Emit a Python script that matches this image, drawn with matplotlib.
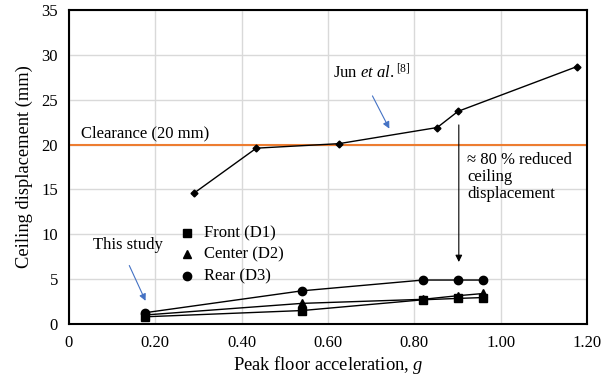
import matplotlib.pyplot as plt

plt.rcParams['font.family'] = ['Liberation Serif', 'DejaVu Serif']
plt.rcParams['mathtext.fontset'] = 'custom'
plt.rcParams['mathtext.rm'] = 'Liberation Serif'
plt.rcParams['mathtext.it'] = 'Liberation Serif:italic'

# ---- data ----
pfa_study = [0.175, 0.54, 0.82, 0.90, 0.96]
front_d1 = [0.8, 1.5, 2.7, 2.85, 2.95]
center_d2 = [1.0, 2.3, 2.75, 3.15, 3.4]
rear_d3 = [1.25, 3.7, 4.9, 4.9, 4.9]

pfa_jun = [0.29, 0.434, 0.625, 0.853, 0.901, 1.177]
disp_jun = [14.6, 19.6, 20.1, 21.9, 23.7, 28.7]

clearance = 20
xticks = [0, 0.2, 0.4, 0.6, 0.8, 1.0, 1.2]
xtick_labels = ['0', '0.20', '0.40', '0.60', '0.80', '1.00', '1.20']
yticks = [0, 5, 10, 15, 20, 25, 30, 35]

fs = 12
fig = plt.figure(figsize=(6.03, 3.76), dpi=100)
ax = fig.add_axes([0.1144, 0.1383, 0.8591, 0.8351])

ax.grid(True, color='#d9d9d9', linewidth=1.0)
ax.set_axisbelow(True)

ax.axhline(clearance, color='#ed7d31', linewidth=1.5, zorder=2)

ax.plot(pfa_jun, disp_jun, color='black', linewidth=1.0, marker='D',
        markersize=3.5, zorder=3)

ax.plot(pfa_study, front_d1, color='black', linewidth=1.0, marker='s',
        markersize=6, zorder=4)
ax.plot(pfa_study, center_d2, color='black', linewidth=1.0, marker='^',
        markersize=6, zorder=4)
ax.plot(pfa_study, rear_d3, color='black', linewidth=1.0, marker='o',
        markersize=6, zorder=4)

ax.set_xlim(0, 1.2)
ax.set_ylim(0, 35)
ax.set_xticks(xticks)
ax.set_xticklabels(xtick_labels)
ax.set_yticks(yticks)
ax.tick_params(length=0, labelsize=fs, pad=8)
for s in ax.spines.values():
    s.set_linewidth(1.5)

ax.set_xlabel('Peak floor acceleration, $g$', fontsize=13.3, labelpad=2)
ax.set_ylabel('Ceiling displacement (mm)', fontsize=13.3, labelpad=6)

# legend drawn as marker + text rows
leg_x, leg_tx = 0.274, 0.3138
for y, m, lab in [(10.1, 's', 'Front (D1)'), (7.75, '^', 'Center (D2)'),
                  (5.35, 'o', 'Rear (D3)')]:
    ax.plot([leg_x], [y], marker=m, color='black', markersize=6,
            linestyle='none', clip_on=False)
    ax.text(leg_tx, y, lab, fontsize=fs, va='center', ha='left')

# annotations
ax.text(0.027, 21.3, 'Clearance (20 mm)', fontsize=fs, va='center', ha='left')
ax.text(0.612, 28.0, 'Jun $et$ $al.$$^{[8]}$', fontsize=fs, va='center', ha='left')
ax.annotate('', xy=(0.745, 21.5), xytext=(0.70, 25.7),
            arrowprops=dict(arrowstyle='-|>', color='#4472c4', lw=0.8,
                            mutation_scale=10))
ax.text(0.056, 8.75, 'This study', fontsize=fs, va='center', ha='left')
ax.annotate('', xy=(0.18, 2.3), xytext=(0.137, 6.8),
            arrowprops=dict(arrowstyle='-|>', color='#4472c4', lw=0.8,
                            mutation_scale=10))
ax.annotate('', xy=(0.903, 6.6), xytext=(0.903, 22.5),
            arrowprops=dict(arrowstyle='-|>', color='black', lw=0.8,
                            mutation_scale=10))
ax.text(0.923, 16.4, '\u2248 80 % reduced\nceiling\ndisplacement',
        fontsize=fs, va='center', ha='left', linespacing=1.1)

fig.savefig('out.png', dpi=100)
